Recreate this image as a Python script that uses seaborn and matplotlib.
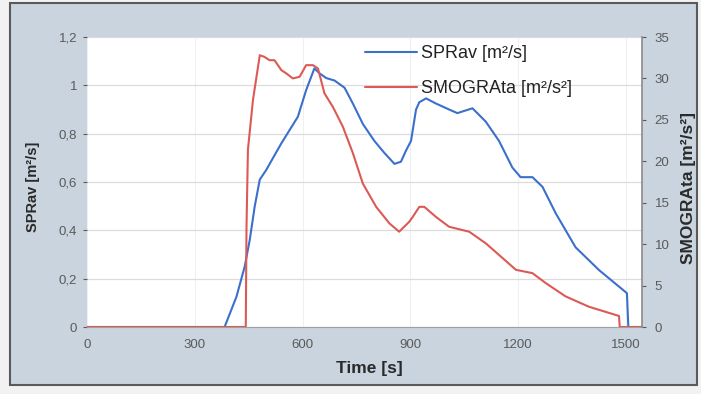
import matplotlib
matplotlib.use("Agg")
import matplotlib.pyplot as plt
import matplotlib.patches as mpatches
import seaborn as sns
import pandas as pd

# ---- data ----
sprav_time = [0, 383, 416, 439, 453, 467, 481, 499, 518, 541, 564, 587, 610, 633,
              647, 666, 689, 717, 740, 768, 800, 828, 856, 874, 888, 902, 916, 925,
              944, 971, 1008, 1031, 1073, 1110, 1147, 1184, 1207, 1240, 1268, 1305,
              1360, 1425, 1503, 1507, 1545]
sprav_vals = [0, 0, 0.125, 0.25, 0.36, 0.50, 0.61, 0.65, 0.70, 0.76, 0.815, 0.87, 0.98, 1.07,
              1.05, 1.03, 1.02, 0.99, 0.925, 0.84, 0.77, 0.72, 0.675, 0.684, 0.73, 0.77, 0.90, 0.93,
              0.946, 0.925, 0.90, 0.885, 0.905, 0.85, 0.77, 0.66, 0.62, 0.62, 0.58, 0.47,
              0.33, 0.236, 0.14, 0, 0]

smog_time = [0, 442, 444, 448, 462, 481, 494, 508, 522, 541, 555, 573, 592, 610, 629,
             643, 661, 684, 712, 740, 768, 805, 842, 869, 897, 907, 925, 939, 971, 1008,
             1064, 1110, 1147, 1194, 1240, 1277, 1332, 1397, 1481, 1483, 1545]
smog_vals = [0, 0, 12.0, 21.4, 27.4, 32.8, 32.6, 32.2, 32.2, 31.0, 30.6, 30.0, 30.2, 31.6, 31.6,
             31.2, 28.2, 26.6, 24.2, 21.0, 17.3, 14.5, 12.5, 11.5, 12.7, 13.3, 14.5, 14.5, 13.3, 12.1,
             11.5, 10.1, 8.7, 6.9, 6.5, 5.3, 3.7, 2.45, 1.33, 0, 0]

x_ticks = [0, 300, 600, 900, 1200, 1500]
left_ticks = [0, 0.2, 0.4, 0.6, 0.8, 1.0, 1.2]
left_tick_labels = ["0", "0,2", "0,4", "0,6", "0,8", "1", "1,2"]
right_ticks = [0, 5, 10, 15, 20, 25, 30, 35]

label_sp = "SPRav [m²/s]"
label_sm = "SMOGRAta [m²/s²]"

df_sp = pd.DataFrame({"t": sprav_time, "v": sprav_vals})
df_sm = pd.DataFrame({"t": smog_time, "v": smog_vals})

sns.set_style("white")
plt.rcParams["font.family"] = ["Liberation Sans", "DejaVu Sans"]

W, H = 701, 394
fig = plt.figure(figsize=(W / 100, H / 100), dpi=100)
fig.patch.set_facecolor("#f2f2f2")

# panel background with frame
frame = mpatches.Rectangle((10 / W, 1 - 385 / H), (697 - 10) / W, (385 - 3) / H,
                           transform=fig.transFigure, facecolor="#c9d4df",
                           edgecolor="#5a5a5a", linewidth=1.5, zorder=-10)
fig.patches.append(frame)

ax = fig.add_axes([87 / W, 1 - 327 / H, (642 - 87) / W, (327 - 37) / H])
ax.set_facecolor("white")
ax2 = ax.twinx()

blue = "#3a70cc"
red = "#dc5a55"

sns.lineplot(data=df_sp, x="t", y="v", ax=ax, color=blue, linewidth=1.5,
             estimator=None, sort=False, label=label_sp, legend=False)
sns.lineplot(data=df_sm, x="t", y="v", ax=ax2, color=red, linewidth=1.5,
             estimator=None, sort=False, label=label_sm, legend=False)

ax.set_xlim(0, 1545)
ax.set_ylim(0, 1.2)
ax2.set_ylim(0, 35)

ax.set_xticks(x_ticks)
ax.set_xticklabels([str(v) for v in x_ticks])
ax.set_yticks(left_ticks)
ax.set_yticklabels(left_tick_labels)
ax2.set_yticks(right_ticks)
ax2.set_yticklabels([str(v) for v in right_ticks])

tick_col = "#5a5a5a"
ax.tick_params(axis="x", labelsize=9.5, colors=tick_col, length=3, pad=6)
ax.tick_params(axis="y", labelsize=9.5, colors=tick_col, length=3, pad=4)
ax2.tick_params(axis="y", labelsize=9.5, colors=tick_col, length=3, pad=6)
for a in (ax, ax2):
    for s in a.spines.values():
        s.set_visible(False)
ax.spines["bottom"].set_visible(True)
ax.spines["bottom"].set_color("#a0a0a0")
ax2.spines["right"].set_visible(True)
ax2.spines["right"].set_color("#8a8a8a")
ax2.spines["right"].set_linewidth(1.2)

ax.yaxis.grid(True, color="#dcdcdc", linewidth=0.9)
ax.xaxis.grid(True, color="#f0f0f0", linewidth=0.8)
ax.set_axisbelow(True)

ax.set_xlabel("Time [s]", fontsize=12.5, fontweight="bold", color="#2a2a2a")
ax.xaxis.set_label_coords(0.508, -0.118)
ax.set_ylabel(label_sp, fontsize=10.5, fontweight="bold", color="#2a2a2a")
ax.yaxis.set_label_coords(-0.084, 0.485)
ax2.set_ylabel(label_sm, fontsize=12.5, fontweight="bold", color="#2a2a2a")
ax2.yaxis.set_label_coords(1.071, 0.48)

h1, l1 = ax.get_legend_handles_labels()
h2, l2 = ax2.get_legend_handles_labels()
leg = ax2.legend(h1 + h2, l1 + l2, loc="upper left", bbox_to_anchor=(0.501, 0.972),
                 frameon=False, fontsize=13, handlelength=2.9, handletextpad=0.2,
                 labelspacing=1.0, borderpad=0, borderaxespad=0)
for t in leg.get_texts():
    t.set_color("#222222")

fig.savefig("out.png", dpi=100, facecolor=fig.get_facecolor())
